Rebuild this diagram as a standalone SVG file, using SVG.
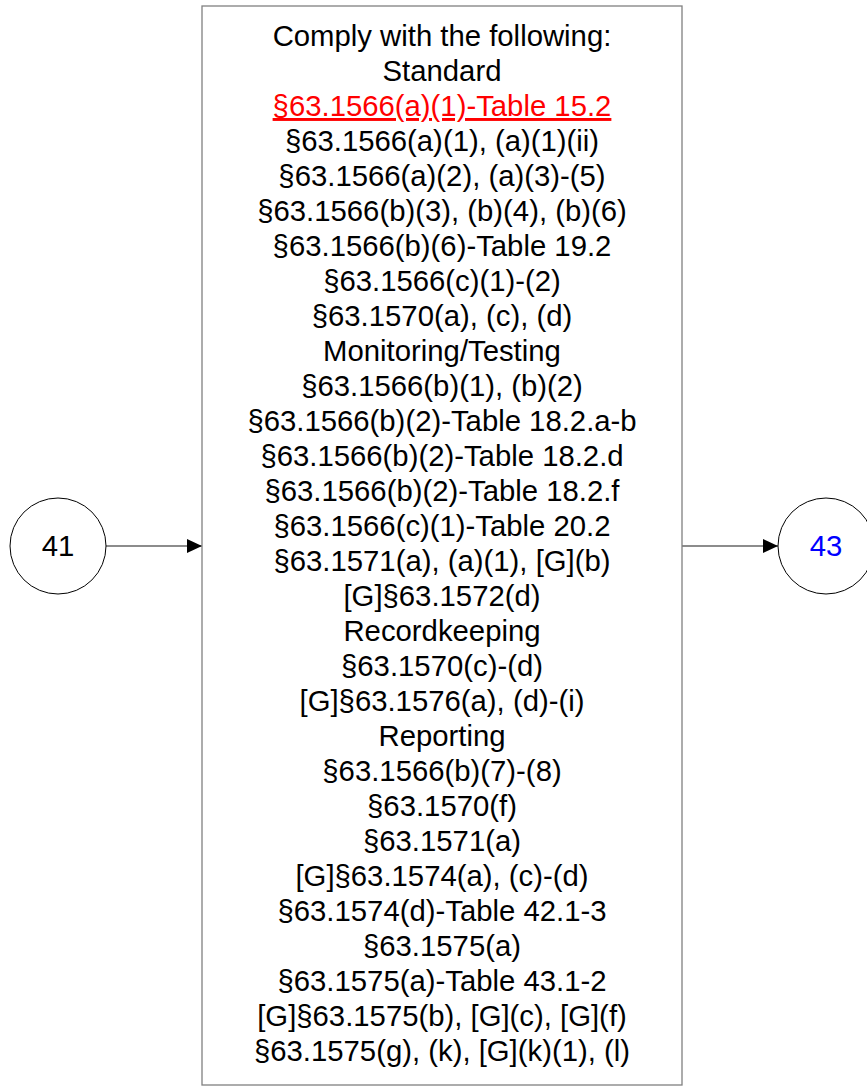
<svg xmlns="http://www.w3.org/2000/svg" width="867" height="1086" viewBox="0 0 867 1086">
<style>
text{font-family:"Liberation Sans",Arial,sans-serif;font-size:29.3px;fill:#000;text-anchor:middle}
.node{fill:#fff;stroke:#000;stroke-width:1}
.box{fill:#fff;stroke:#808080;stroke-width:1.3}
.conn{stroke:#666;stroke-width:1.5;fill:none}
</style>
<defs>
<marker id="arr" markerUnits="userSpaceOnUse" markerWidth="16" markerHeight="14" refX="15" refY="7" orient="auto">
<path d="M0,0 L15,7 L0,14 Z" fill="#000"/>
</marker>
</defs>
<rect width="867" height="1086" fill="#fff"/>
<g id="connectors">
<line class="conn" x1="106" y1="546" x2="202" y2="546" marker-end="url(#arr)"/>
<line class="conn" x1="682" y1="546" x2="778" y2="546" marker-end="url(#arr)"/>
</g>
<g id="node41">
<circle class="node" cx="58" cy="546" r="48"/>
<text x="58" y="556">41</text>
</g>
<g id="node43">
<circle class="node" cx="826" cy="546" r="48"/>
<text x="826" y="556" style="fill:#0000ff">43</text>
</g>
<g id="main">
<rect class="box" x="202" y="6" width="480" height="1079"/>
<text x="442" y="46">Comply with the following:</text>
<text x="442" y="81">Standard</text>
<text x="442" y="116" style="fill:#ff0000;text-decoration:underline">§63.1566(a)(1)-Table 15.2</text>
<text x="442" y="151">§63.1566(a)(1), (a)(1)(ii)</text>
<text x="442" y="186">§63.1566(a)(2), (a)(3)-(5)</text>
<text x="442" y="221">§63.1566(b)(3), (b)(4), (b)(6)</text>
<text x="442" y="256">§63.1566(b)(6)-Table 19.2</text>
<text x="442" y="291">§63.1566(c)(1)-(2)</text>
<text x="442" y="326">§63.1570(a), (c), (d)</text>
<text x="442" y="361">Monitoring/Testing</text>
<text x="442" y="396">§63.1566(b)(1), (b)(2)</text>
<text x="442" y="431">§63.1566(b)(2)-Table 18.2.a-b</text>
<text x="442" y="466">§63.1566(b)(2)-Table 18.2.d</text>
<text x="442" y="501">§63.1566(b)(2)-Table 18.2.f</text>
<text x="442" y="536">§63.1566(c)(1)-Table 20.2</text>
<text x="442" y="571">§63.1571(a), (a)(1), [G](b)</text>
<text x="442" y="606">[G]§63.1572(d)</text>
<text x="442" y="641">Recordkeeping</text>
<text x="442" y="676">§63.1570(c)-(d)</text>
<text x="442" y="711">[G]§63.1576(a), (d)-(i)</text>
<text x="442" y="746">Reporting</text>
<text x="442" y="781">§63.1566(b)(7)-(8)</text>
<text x="442" y="816">§63.1570(f)</text>
<text x="442" y="851">§63.1571(a)</text>
<text x="442" y="886">[G]§63.1574(a), (c)-(d)</text>
<text x="442" y="921">§63.1574(d)-Table 42.1-3</text>
<text x="442" y="956">§63.1575(a)</text>
<text x="442" y="991">§63.1575(a)-Table 43.1-2</text>
<text x="442" y="1026">[G]§63.1575(b), [G](c), [G](f)</text>
<text x="442" y="1061">§63.1575(g), (k), [G](k)(1), (l)</text>
</g>
</svg>
